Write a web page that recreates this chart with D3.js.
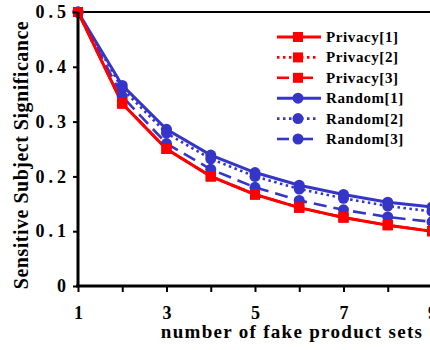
<!DOCTYPE html>
<html><head><meta charset="utf-8">
<script src="https://cdn.jsdelivr.net/npm/d3@7"></script>
<style>body{margin:0;background:#fff}svg{display:block}text{font-family:"Liberation Serif","Times New Roman",serif;font-weight:bold;fill:#000}</style>
</head><body><svg id="c" width="430" height="350"></svg>
<script>
const xValues = [1,2,3,4,5,6,7,8,9];
const privacy1 = [0.5,0.333,0.25,0.2,0.167,0.143,0.125,0.111,0.1];
const privacy2 = [0.5,0.333,0.25,0.2,0.167,0.143,0.125,0.111,0.1];
const privacy3 = [0.5,0.333,0.25,0.2,0.167,0.143,0.125,0.111,0.1];
const random1 = [0.5,0.366,0.286,0.239,0.207,0.184,0.167,0.153,0.144];
const random2 = [0.5,0.36,0.279,0.232,0.2,0.177,0.16,0.146,0.136];
const random3 = [0.5,0.346,0.26,0.213,0.18,0.156,0.139,0.126,0.117];
const seriesNames = ["Privacy[1]","Privacy[2]","Privacy[3]","Random[1]","Random[2]","Random[3]"];
const yTicks = [0,0.1,0.2,0.3,0.4,0.5];
const xTickLabels = [1,3,5,7,9];

const series = [
  {name:seriesNames[0],values:privacy1,color:"#ff0000",style:"solid",marker:"square"},
  {name:seriesNames[1],values:privacy2,color:"#ff0000",style:"dot",marker:"square"},
  {name:seriesNames[2],values:privacy3,color:"#ff0000",style:"dash",marker:"square"},
  {name:seriesNames[3],values:random1,color:"#3535c8",style:"solid",marker:"circle"},
  {name:seriesNames[4],values:random2,color:"#3535c8",style:"dot",marker:"circle"},
  {name:seriesNames[5],values:random3,color:"#3535c8",style:"dash",marker:"circle"}
];
const dashOf = s => s==="dot" ? "2.5,3.5" : s==="dash" ? "13,7" : null;

const svg = d3.select("#c");
const x = d3.scaleLinear().domain([1,9]).range([78,432]);
const y = d3.scaleLinear().domain([0,0.5]).range([286,12]);

svg.append("line").attr("x1",78).attr("x2",430).attr("y1",y(0.5)).attr("y2",y(0.5)).attr("stroke","#000").attr("stroke-width",2);

const line = d3.line().x((d,i)=>x(xValues[i])).y(d=>y(d));
const drawOrder = [3,4,5,0,1,2];
drawOrder.forEach(k=>{
  const s = series[k];
  svg.append("path").datum(s.values).attr("d",line).attr("fill","none")
    .attr("stroke",s.color).attr("stroke-width",s.style==="solid"?3:2.6)
    .attr("stroke-dasharray",dashOf(s.style));
});
drawOrder.forEach(k=>{
  const s = series[k];
  const g = svg.append("g");
  s.values.forEach((v,i)=>{
    if(s.marker==="square") g.append("rect").attr("x",x(xValues[i])-5).attr("y",y(v)-5).attr("width",10).attr("height",10).attr("fill",s.color);
    else g.append("circle").attr("cx",x(xValues[i])).attr("cy",y(v)).attr("r",5.5).attr("fill",s.color);
  });
});

const yAxis = svg.append("g").attr("transform","translate(78,0)")
  .call(d3.axisLeft(y).tickValues(yTicks).tickSize(5).tickFormat(d=>d===0?"0":d3.format(".1f")(d)));
const xAxis = svg.append("g").attr("transform","translate(0,286)")
  .call(d3.axisBottom(x).tickValues(xValues).tickSize(6).tickPadding(14).tickFormat(d=>xTickLabels.includes(d)?d:""));
[yAxis,xAxis].forEach(a=>{
  a.attr("font-family",null).attr("font-size",null);
  a.select(".domain").attr("stroke","#000").attr("stroke-width",3);
  a.selectAll(".tick line").attr("stroke","#000").attr("stroke-width",2);
  a.selectAll("text").attr("fill","#000").style("font-size","18px");
});
yAxis.selectAll("text").attr("letter-spacing","4").attr("x",-8);
yAxis.select(".domain").attr("d","M0,287V12");
xAxis.select(".domain").attr("d","M76,0H430");

svg.append("text").attr("x",292).attr("y",338).attr("text-anchor","middle").style("font-size","19px").attr("letter-spacing","1.3").text("number of fake product sets");
svg.append("text").attr("transform","translate(28,155) rotate(-90)").attr("text-anchor","middle").style("font-size","20px").attr("letter-spacing","0.5").text("Sensitive Subject Significance");

const lg = svg.append("g");
series.forEach((s,i)=>{
  const yy = 37 + i*20.4;
  const sw = s.style==="solid"?3:2.6;
  if(s.style==="dash"){
    lg.append("line").attr("x1",277).attr("x2",289).attr("y1",yy).attr("y2",yy).attr("stroke",s.color).attr("stroke-width",sw);
    lg.append("line").attr("x1",302).attr("x2",313).attr("y1",yy).attr("y2",yy).attr("stroke",s.color).attr("stroke-width",sw);
  } else {
    lg.append("line").attr("x1",277).attr("x2",s.style==="dot"?318:321).attr("y1",yy).attr("y2",yy).attr("stroke",s.color).attr("stroke-width",sw).attr("stroke-dasharray",dashOf(s.style));
  }
  if(s.marker==="square") lg.append("rect").attr("x",293).attr("y",yy-5).attr("width",10).attr("height",10).attr("fill",s.color);
  else lg.append("circle").attr("cx",298).attr("cy",yy).attr("r",5.5).attr("fill",s.color);
  lg.append("text").attr("x",326).attr("y",yy+5).style("font-size","15px").attr("letter-spacing","0.6").text(s.name);
});
</script></body></html>
